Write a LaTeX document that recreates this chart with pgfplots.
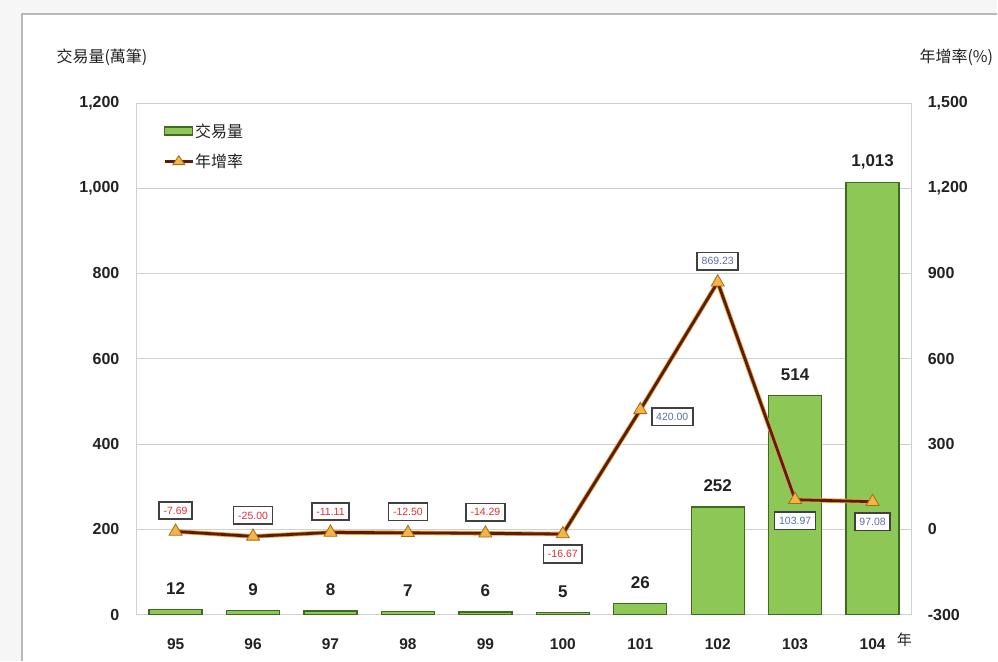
\documentclass[border=0pt]{standalone}
\usepackage{pgfplots}
\pgfplotsset{compat=1.18}
\usepackage{pgfplotstable}
\usepackage{fontspec}
\setmainfont{Liberation Sans}
\newfontfamily\cjk{Noto Sans CJK TC}
\definecolor{barfill}{HTML}{8DC857}
\definecolor{bardraw}{HTML}{3F6B20}
\definecolor{linebrown}{HTML}{5A1E08}
\definecolor{lineorange}{HTML}{E8A040}
\definecolor{markfill}{HTML}{F3B548}
\definecolor{markdraw}{HTML}{A86A10}
\definecolor{negred}{HTML}{E0303A}
\definecolor{posblue}{HTML}{5A6FA8}
\definecolor{gridgray}{HTML}{D0D0D0}
\definecolor{txt}{HTML}{222222}
\pgfplotsset{/pgf/number format/.cd, 1000 sep={,}, assume math mode=true}

\pgfplotstableread{
x v
0 12
1 9
2 8
3 7
4 6
5 5
6 26
7 252
8 514
9 1013
}\voldata

\pgfplotstableread{
x y lbl dx dy
0 -7.69 -7.69 0 21
1 -25.00 -25.00 0 21
2 -11.11 -11.11 0 21
3 -12.50 -12.50 0 21
4 -14.29 -14.29 0 21
5 -16.67 -16.67 0 -20
6 420.00 420.00 32 -7
7 869.23 869.23 0 21
8 103.97 103.97 0 -21
9 97.08 97.08 0 -20
}\ratedata

\pgfplotsset{ratelbl/.style={draw=none, mark=none, forget plot,
  nodes near coords, point meta=explicit symbolic,
  visualization depends on={\thisrow{dx}\as\ndx},
  visualization depends on={\thisrow{dy}\as\ndy},
  every node near coord/.style={anchor=center, xshift=\ndx pt, yshift=\ndy pt,
    draw=black!75, line width=1.6pt, fill=white, text=#1,
    font=\fontsize{10.5}{10.5}\selectfont, inner xsep=4.5pt, inner ysep=5pt}}}

\begin{document}
\begin{tikzpicture}[x=1pt,y=1pt]
% background and frame
\fill[gray!7] (-137,-46) rectangle (861,615);
\fill[white] (-115,-46) rectangle (861,601);
\draw[gray!55, line width=1.5pt] (-115,-46) -- (-115,601) -- (861,601);

\begin{axis}[
  scale only axis, width=775pt, height=512pt,
  at={(0pt,0pt)}, anchor=south west,
  xmin=-0.5, xmax=9.5, ymin=0, ymax=1200,
  ytick={0,200,...,1200},
  ymajorgrids, grid style={gridgray, line width=0.8pt},
  axis line style={gridgray, line width=0.8pt},
  ytick style={draw=none},
  xtick={0,...,9},
  xticklabels={95,96,97,98,99,100,101,102,103,104},
  xtick style={draw=none},
  extra x ticks={0.5,1.5,...,8.5},
  extra x tick labels={},
  extra x tick style={grid=none, tick align=outside, major tick length=6pt, tick style={draw=gridgray, line width=0.8pt}},
  xticklabel style={anchor=center, yshift=-25pt, text=txt, font=\bfseries\fontsize{15.5}{15.5}\selectfont},
  yticklabel style={anchor=east, xshift=-14pt, text=txt, font=\bfseries\fontsize{16}{16}\selectfont},
  ybar, bar width=53pt,
  nodes near coords,
  every node near coord/.append style={anchor=center, yshift=21pt, font=\bfseries\fontsize{17}{17}\selectfont, text=txt},
  clip=false,
]
\addplot[fill=barfill, draw=bardraw, line width=1.3pt] table[x=x,y=v]{\voldata};
\end{axis}

\begin{axis}[
  scale only axis, width=775pt, height=512pt,
  at={(0pt,0pt)}, anchor=south west,
  xmin=-0.5, xmax=9.5, ymin=-300, ymax=1500,
  axis x line=none,
  axis y line*=right,
  y axis line style={draw=none},
  ytick={-300,0,...,1500},
  ytick style={draw=none},
  yticklabel style={anchor=west, xshift=13pt, text=txt, font=\bfseries\fontsize{16}{16}\selectfont},
  legend style={at={(axis description cs:0.034,0.962)}, anchor=north west, draw=none, fill=none,
    font=\cjk\fontsize{16}{16}\selectfont, row sep=13pt, inner sep=0pt, text=txt,
    nodes={inner sep=1pt}},
  legend cell align=left,
  clip=false,
]
\addlegendimage{legend image code/.code={\draw[fill=barfill, draw=bardraw, line width=1.2pt] (0pt,-4pt) rectangle (28pt,4pt);}}
\addlegendentry{交易量}
\addplot[lineorange, line width=4.5pt, forget plot] table[x=x,y=y]{\ratedata};
\addplot[linebrown, line width=2.8pt, mark=triangle*, mark size=7.5pt,
  mark options={fill=markfill, draw=markdraw, line width=0.8pt},
  legend image code/.code={\draw[linebrown, line width=2.8pt] (0pt,0pt) -- (28pt,0pt);
    \draw[fill=markfill, draw=markdraw, line width=0.8pt] (14pt,5.5pt) -- (8pt,-3.5pt) -- (20pt,-3.5pt) -- cycle;}]
  table[x=x,y=y]{\ratedata};
\addlegendentry{年增率}
\addplot[ratelbl=negred, x filter/.expression={x<5.5 ? x : nan}]
  table[x=x,y=y,meta=lbl]{\ratedata};
\addplot[ratelbl=posblue, x filter/.expression={x>5.5 ? x : nan}]
  table[x=x,y=y,meta=lbl]{\ratedata};
\end{axis}

\node[font=\cjk\fontsize{16}{16}\selectfont, text=txt, anchor=center] at (-35,558) {交易量(萬筆)};
\node[font=\cjk\fontsize{16}{16}\selectfont, text=txt, anchor=center] at (820,558) {年增率(\%)};
\node[font=\cjk\fontsize{15}{15}\selectfont, text=txt, anchor=center] at (768,-25) {年};
\end{tikzpicture}
\end{document}
